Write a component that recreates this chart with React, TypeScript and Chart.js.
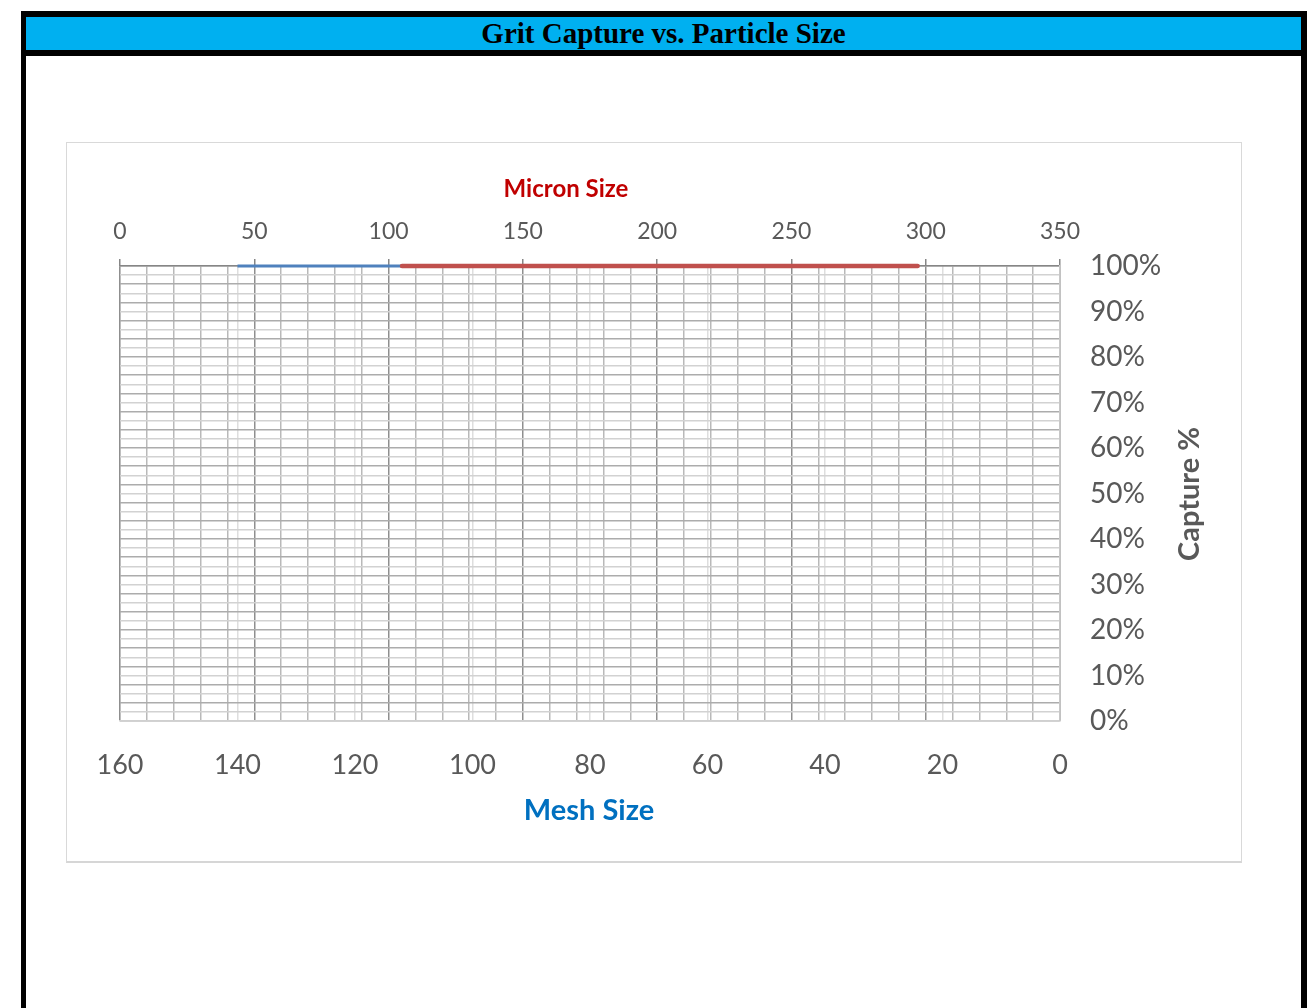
import React, { useEffect, useRef } from 'react';
import { Chart, registerables } from 'chart.js';

Chart.register(...registerables);

// ---- data ----
const chartTitle = 'Grit Capture vs. Particle Size';
const micronTitle = 'Micron Size';
const meshTitle = 'Mesh Size';
const captureTitle = 'Capture %';

// Mesh sizes (bottom axis, reversed) and capture %
const meshSizes = [140, 120, 100, 80, 70, 60, 50];
const meshCapture = [100, 100, 100, 100, 100, 100, 100];

// Micron sizes (top axis) and capture %
const micronSizes = [105, 125, 149, 177, 210, 250, 297];
const micronCapture = [100, 100, 100, 100, 100, 100, 100];

// axis ranges / steps
const meshMin = 0;
const meshMax = 160;
const meshStep = 20;
const micronMin = 0;
const micronMax = 350;
const micronStep = 10;
const micronLabelStep = 50;
const captureMin = 0;
const captureMax = 100;
const captureStep = 2;
const captureLabelStep = 10;

const FONT = 'Lato, "Open Sans", sans-serif';
const TICK_COLOR = '#595959';

const titlesPlugin = {
  id: 'customAxisTitles',
  afterDraw(chart: any) {
    const { ctx, chartArea } = chart;
    ctx.save();
    ctx.textAlign = 'center';
    ctx.textBaseline = 'middle';

    ctx.font = `bold 24px ${FONT}`;
    ctx.fillStyle = '#C00000';
    ctx.fillText(micronTitle, chartArea.left + 446, chartArea.top - 77);

    ctx.font = `bold 29px ${FONT}`;
    ctx.fillStyle = '#0070C0';
    ctx.fillText(meshTitle, chartArea.left + 469, chartArea.bottom + 90);

    ctx.translate(chartArea.right + 130, chartArea.top + 228);
    ctx.rotate(-Math.PI / 2);
    ctx.font = `bold 29px ${FONT}`;
    ctx.fillStyle = '#595959';
    ctx.fillText(captureTitle, 0, 0);
    ctx.restore();
  },
};

function ChartView() {
  const ref = useRef<HTMLCanvasElement | null>(null);
  useEffect(() => {
    if (!ref.current) return;
    const chart = new Chart(ref.current, {
      type: 'scatter',
      data: {
        datasets: [
          {
            label: 'Micron',
            data: micronSizes.map((x, i) => ({ x, y: micronCapture[i] })),
            xAxisID: 'micron',
            yAxisID: 'y',
            showLine: true,
            borderColor: '#C0504D',
            backgroundColor: '#C0504D',
            borderWidth: 4.5,
            pointRadius: 0,
            borderCapStyle: 'round',
            clip: false as any,
          },
          {
            label: 'Mesh',
            data: meshSizes.map((x, i) => ({ x, y: meshCapture[i] })),
            xAxisID: 'mesh',
            yAxisID: 'y',
            showLine: true,
            borderColor: '#4F81BD',
            backgroundColor: '#4F81BD',
            borderWidth: 3,
            pointRadius: 0,
            clip: false as any,
          },
        ],
      },
      options: {
        animation: false,
        responsive: false,
        maintainAspectRatio: false,
        layout: { padding: { left: 53, right: 0, top: 0, bottom: 0 } },
        plugins: {
          legend: { display: false },
          tooltip: { enabled: false },
          title: { display: false },
        },
        scales: {
          mesh: {
            type: 'linear',
            position: 'bottom',
            min: meshMin,
            max: meshMax,
            reverse: true,
            afterFit: (s: any) => {
              s.height = 141;
            },
            ticks: {
              stepSize: meshStep,
              autoSkip: false,
              maxRotation: 0,
              padding: 28,
              color: TICK_COLOR,
              font: { family: FONT, size: 27 },
            },
            grid: { color: '#dedede', drawTicks: false, lineWidth: 1.5 },
            border: { color: '#d0d0d0', width: 1.5 },
          },
          micron: {
            type: 'linear',
            position: 'top',
            min: micronMin,
            max: micronMax,
            afterFit: (s: any) => {
              s.height = 123;
            },
            ticks: {
              stepSize: micronStep,
              autoSkip: false,
              maxRotation: 0,
              padding: 14,
              color: TICK_COLOR,
              font: { family: FONT, size: 23 },
              callback: (v: any) => (Number(v) % micronLabelStep === 0 ? String(v) : ''),
            },
            grid: {
              color: (c: any) =>
                c.tick && c.tick.value % micronLabelStep === 0 ? '#8f8f8f' : '#b9b9b9',
              tickColor: (c: any) =>
                c.tick && c.tick.value % micronLabelStep === 0 ? '#868686' : 'rgba(0,0,0,0)',
              tickLength: 7,
              drawTicks: true,
              lineWidth: 1.5,
            },
            border: { color: '#868686', width: 1.5 },
          },
          y: {
            type: 'linear',
            position: 'right',
            min: captureMin,
            max: captureMax,
            afterFit: (s: any) => {
              s.width = 181;
            },
            ticks: {
              stepSize: captureStep,
              autoSkip: false,
              padding: 30,
              color: TICK_COLOR,
              font: { family: FONT, size: 28 },
              callback: (v: any) => (Number(v) % captureLabelStep === 0 ? v + '%' : ''),
            },
            grid: {
              color: (c: any) => (c.tick && c.tick.value % 4 === 0 ? '#acacac' : '#d2d2d2'),
              drawTicks: false,
              lineWidth: 1.5,
            },
            border: { color: '#c8c8c8', width: 1.5 },
          },
        },
      } as any,
      plugins: [titlesPlugin],
    });
    return () => chart.destroy();
  }, []);
  return <canvas ref={ref} width={1174} height={719} style={{ display: 'block' }} />;
}

export default function App() {
  return (
    <div>
      <div
        style={{
          position: 'absolute',
          left: 21,
          top: 11,
          width: 1286,
          height: 1100,
          boxSizing: 'border-box',
          borderLeft: '5px solid #000',
          borderTop: '6px solid #000',
          borderRight: '6px solid #000',
          background: '#fff',
        }}
      >
        <div
          style={{
            height: 33,
            background: '#00B0F0',
            borderBottom: '6px solid #000',
            textAlign: 'center',
            fontFamily: '"Liberation Serif", "Times New Roman", serif',
            fontWeight: 'bold',
            fontSize: 29,
            lineHeight: '33px',
            color: '#000',
            whiteSpace: 'nowrap',
            overflow: 'hidden',
          }}
        >
          {chartTitle}
        </div>
      </div>
      <div
        style={{
          position: 'absolute',
          left: 66,
          top: 142,
          width: 1176,
          height: 721,
          boxSizing: 'border-box',
          border: '1px solid #d9d9d9',
          borderBottom: '2px solid #d6d6d6',
          background: '#fff',
        }}
      >
        <ChartView />
      </div>
    </div>
  );
}
